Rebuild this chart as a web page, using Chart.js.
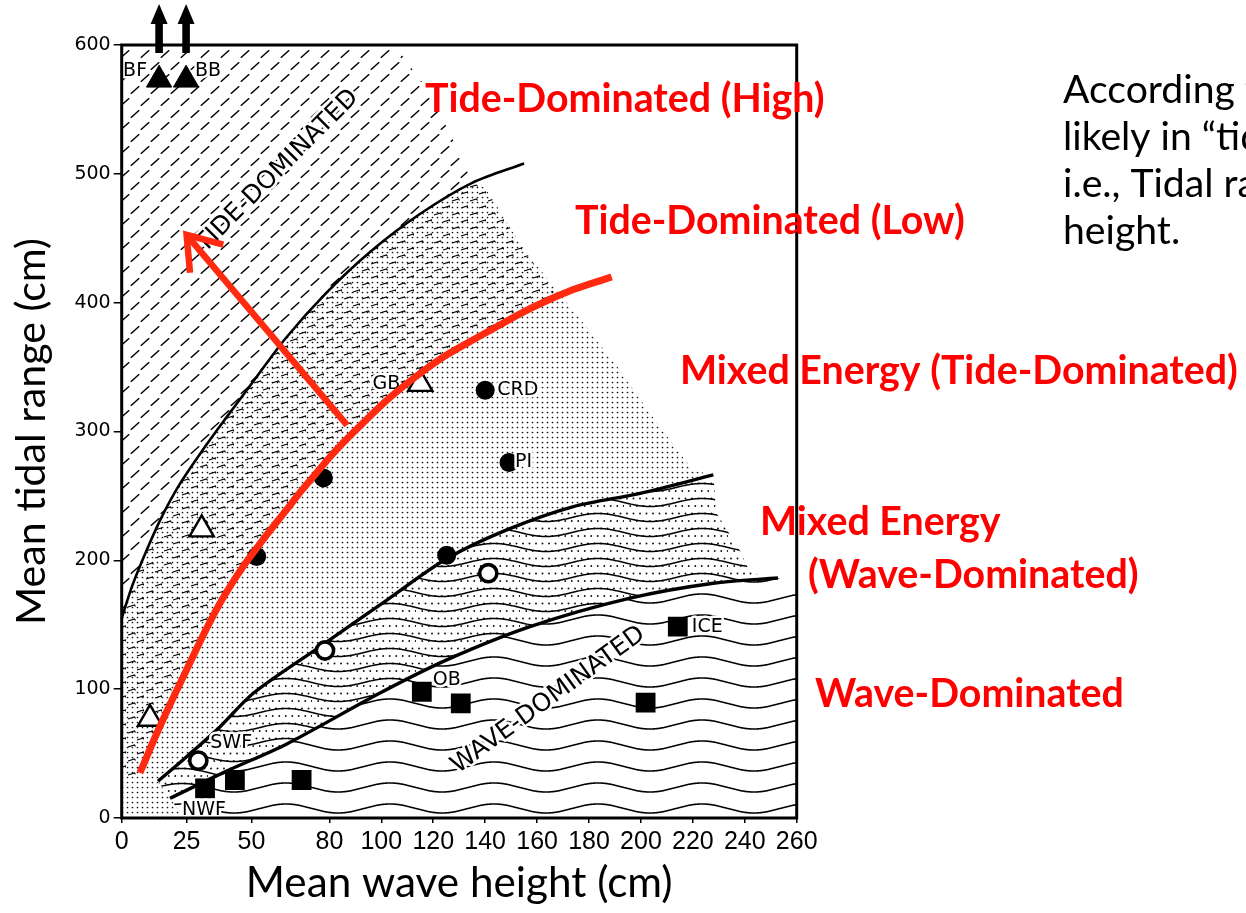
<!DOCTYPE html>
<html>
<head>
<meta charset="utf-8">
<script src="https://cdn.jsdelivr.net/npm/chart.js@4.4.1/dist/chart.umd.min.js"></script>
<style>
  html, body { margin: 0; padding: 0; background: #fff; overflow: hidden; }
  #wrap { width: 1246px; height: 913px; position: relative; }
</style>
</head>
<body>
<div id="wrap"><canvas id="chart" width="1246" height="913"></canvas></div>
<script>
// ---------- axis ticks ----------
const xTickValues = [0, 25, 50, 80, 100, 120, 140, 160, 180, 200, 220, 240, 260];
const yTickValues = [0, 100, 200, 300, 400, 500, 600];

// ---------- stations: x = mean wave height (cm), y = mean tidal range (cm) ----------
const solidTriX = [14.4, 24.8];
const solidTriY = [573, 573];
const solidTriNames = ['BF', 'BB'];

const openTriX = [30.8, 10.9, 115.0];
const openTriY = [224, 77, 337];
const openTriNames = ['', '', 'GB'];

const solidDotX = [140.0, 149.2, 77.7, 52.0, 125.2];
const solidDotY = [332, 276, 264, 203, 204];
const solidDotNames = ['CRD', 'PI', '', '', ''];

const openDotX = [141.2, 78.3, 29.5];
const openDotY = [190, 130, 44.5];
const openDotNames = ['', '', 'SWF'];

const squareX = [214.2, 115.6, 130.6, 201.8, 32.1, 43.6, 69.3];
const squareY = [148.5, 98, 89, 89.5, 23, 29.5, 29.5];
const squareNames = ['ICE', 'OB', '', '', 'NWF', '', ''];

// ---------- field boundaries [wave height, tidal range] ----------
const tideBoundary = [[0,155],[4,180],[9,205],[15,232],[22,258],[31,285],[40,310],[50,337],[63,372],[79,408],[96,440],[115,469],[135,493],[155,508]];
const mixedBoundary = [[14,28.5],[25,47.6],[37.9,70.9],[50.7,96.8],[76.4,133],[102,169],[125,201],[148.3,223.6],[174,241.7],[199.7,252],[227.9,266.3]];
const waveBoundary = [[18.6,15.3],[40,36],[63.6,57.5],[99.5,97],[125.2,122.7],[157.3,148.5],[195.8,170.6],[227.9,182.2],[252.8,186.3]];

// outer edges of the shaded fields
const hatchEdge = [[0,600],[105,600],[118,565],[128,525]];
const stippleEdge = [[140,489],[155,441],[174,394],[191,350],[206,307],[220,270]];
const rippleEdge = [[229,237],[238,208],[241,195],[246,187]];
const waveFieldEdge = [[260,180],[260,0],[24,0]];
const cornerEdge = [[18.6,15.3],[24,0],[0,0]];

// hand-drawn split through the mixed-energy field, and the pointer
const splitCurve = [[7,35],[14.7,71],[25,115],[36,160],[45,190],[53.3,213],[63,238],[71.3,259],[88.6,298],[114.9,345],[140.6,377],[167.6,405],[188.7,420]];
const pointerFrom = [86.8, 305];
const pointerTo = [25, 452.6];

// ---------- text ----------
const fieldNames = ['TIDE-DOMINATED', 'WAVE-DOMINATED'];
const fieldNameAnchor = [[60, 502, -45], [164.3, 91.6, -36]];

const sideNotes = ['Tide-Dominated (High)', 'Tide-Dominated (Low)', 'Mixed Energy (Tide-Dominated)', 'Mixed Energy', '(Wave-Dominated)', 'Wave-Dominated'];
const sideNoteAt = [[425,112],[575,234],[680,384],[760,535],[808,588],[815,707]];

const noteLines = ['According to this diagram, the deposit is most', 'likely in \u201ctide-dominated\u201d settings,', 'i.e., Tidal range far exceeds wave', 'height.'];
const noteAt = [1063, 103, 47];

const stationLabelPlacement = {
  BF:  { dx: -12, dy: -9,  align: 'right' },
  BB:  { dx: 9,   dy: -9,  align: 'left' },
  GB:  { dx: -20, dy: 0,   align: 'right' },
  CRD: { dx: 12,  dy: 0,   align: 'left' },
  PI:  { dx: 6,   dy: 0,   align: 'left' },
  SWF: { dx: 12,  dy: -18, align: 'left' },
  NWF: { dx: -23, dy: 22,  align: 'left' },
  OB:  { dx: 11,  dy: -12, align: 'left' },
  ICE: { dx: 14,  dy: 0,   align: 'left' }
};

const RED_TEXT = '#ff0000';
const RED_PEN = '#ff2a10';
const INK = '#000';

// ---------- helpers ----------
const pts = arr => arr.map(([x, y]) => ({ x, y }));
const zip = (xs, ys) => xs.map((x, i) => ({ x, y: ys[i] }));

function fitSize(text, weight, family, width) {
  const g = document.createElement('canvas').getContext('2d');
  g.font = `${weight} 100px "${family}"`;
  return 100 * width / g.measureText(text).width;
}

function makeTile(w, h, paint) {
  const c = document.createElement('canvas');
  c.width = w; c.height = h;
  const g = c.getContext('2d');
  paint(g, w, h);
  return g.createPattern(c, 'repeat');
}

function wave(g, w, cy, amp, lw) {
  g.strokeStyle = INK; g.lineWidth = lw;
  g.beginPath();
  for (let x = -1; x <= w + 1; x++) {
    const y = cy + amp * Math.sin(2 * Math.PI * x / w);
    if (x === -1) g.moveTo(x, y); else g.lineTo(x, y);
  }
  g.stroke();
}

// shading textures
const hatchFill = makeTile(20, 24, g => {
  g.strokeStyle = INK; g.lineWidth = 1.5;
  [[5, 6], [15, 18]].forEach(([cx, cy]) => {
    g.beginPath(); g.moveTo(cx - 4.2, cy + 3.8); g.lineTo(cx + 4.2, cy - 3.8); g.stroke();
  });
});
const stippleFill = makeTile(5, 5, g => {
  g.fillStyle = '#111';
  g.beginPath(); g.arc(2.5, 2.5, 0.85, 0, Math.PI * 2); g.fill();
});
const dashFill = makeTile(18, 14, g => {
  g.strokeStyle = INK; g.lineWidth = 1.15;
  g.beginPath(); g.moveTo(2, 5); g.lineTo(8.5, 3); g.lineTo(9.5, 4.5); g.stroke();
  g.beginPath(); g.moveTo(11, 12); g.lineTo(17.5, 10); g.lineTo(18, 11.5); g.stroke();
});
const rippleDotFill = makeTile(104, 15, g => {
  g.fillStyle = '#111';
  for (let i = 0; i < 16; i++) {
    g.beginPath(); g.arc(3 + i * 6.5, 3.5, 0.95, 0, Math.PI * 2); g.fill();
    g.beginPath(); g.arc(6.25 + i * 6.5, 11, 0.95, 0, Math.PI * 2); g.fill();
  }
  wave(g, 104, 7.5, 4, 1.5);
});
const rippleFill = makeTile(104, 21, g => wave(g, 104, 10.5, 4.5, 1.6));

// ---------- fonts ----------
const GEO = 'DejaVu Sans';
const sideSize = fitSize('Mixed Energy (Tide-Dominated)', 'bold', 'Lato', 558);
const noteSize = fitSize('According', 'normal', 'Lato', 172);
const xTitleSize = fitSize('Mean wave height (cm)', 'normal', 'Lato', 427);
const yTitleSize = fitSize('Mean tidal range (cm)', 'normal', 'Lato', 387);

// ---------- datasets ----------
function field(points, pattern, order) {
  return {
    data: pts(points), showLine: true, fill: 'shape', backgroundColor: pattern,
    borderWidth: 0, borderColor: 'rgba(0,0,0,0)', pointRadius: 0, tension: 0, order
  };
}
function boundary(points, width) {
  return {
    data: pts(points), showLine: true, fill: false, borderColor: INK, borderWidth: width,
    pointRadius: 0, tension: 0.3, order: 40
  };
}
function stations(xs, ys, style, radius, solid, bw) {
  return {
    data: zip(xs, ys), showLine: false, pointStyle: style, pointRadius: radius,
    backgroundColor: solid ? INK : '#fff', borderColor: INK, borderWidth: bw, order: 30
  };
}

const datasets = [
  field([...waveBoundary, ...waveFieldEdge], rippleFill, 60),
  field([...mixedBoundary, ...rippleEdge, ...waveBoundary.slice(0, 8).reverse()], rippleDotFill, 59),
  field([...tideBoundary.slice(0, 13), ...stippleEdge, ...mixedBoundary.slice().reverse(), ...cornerEdge], stippleFill, 58),
  field([...tideBoundary.slice(0, 13), [140, 489], [155, 441], ...splitCurve.slice(0, 12).reverse(), [0, 30]], dashFill, 57),
  field([...hatchEdge, ...tideBoundary.slice(0, 13).reverse()], hatchFill, 56),
  boundary(tideBoundary, 2.6),
  boundary(mixedBoundary, 3.4),
  boundary(waveBoundary, 3.4),
  stations(solidTriX, solidTriY, 'triangle', 14.6, true, 1),
  stations(openTriX, openTriY, 'triangle', 14, false, 2.4),
  stations(solidDotX, solidDotY, 'circle', 9.5, true, 0),
  stations(openDotX, openDotY, 'circle', 8.6, false, 3.6),
  stations(squareX, squareY, 'rect', 14, true, 0),
  {
    role: 'split', data: pts(splitCurve), showLine: true, fill: false, borderColor: RED_PEN,
    borderWidth: 7, borderCapStyle: 'butt', pointRadius: 0, tension: 0.45, order: 20
  },
  {
    role: 'pointer', data: pts([pointerFrom, pointerTo]), showLine: true, fill: false,
    borderColor: RED_PEN, borderWidth: 6.5, borderCapStyle: 'butt', pointRadius: 0, order: 10
  }
];

const stationGroups = [
  [solidTriX, solidTriY, solidTriNames],
  [openTriX, openTriY, openTriNames],
  [solidDotX, solidDotY, solidDotNames],
  [openDotX, openDotY, openDotNames],
  [squareX, squareY, squareNames]
];

// ---------- drawing plugin ----------
function haloText(ctx, text, x, y) {
  ctx.lineWidth = 5; ctx.strokeStyle = '#fff'; ctx.lineJoin = 'round';
  ctx.strokeText(text, x, y);
  ctx.fillStyle = INK; ctx.fillText(text, x, y);
}

const diagram = {
  id: 'diagram',
  beforeDatasetDraw(chart, args) {
    const ds = chart.data.datasets[args.index];
    if (ds.role !== 'split') return;
    const { ctx, scales: { x, y } } = chart;
    ctx.save();
    ctx.textBaseline = 'middle';
    // field names
    ctx.font = `25px "${GEO}"`;
    ctx.textAlign = 'center';
    fieldNames.forEach((t, i) => {
      const [vx, vy, ang] = fieldNameAnchor[i];
      ctx.save();
      ctx.translate(x.getPixelForValue(vx), y.getPixelForValue(vy));
      ctx.rotate(ang * Math.PI / 180);
      haloText(ctx, t, 0, 0);
      ctx.restore();
    });
    // station names
    ctx.font = `19px "${GEO}"`;
    stationGroups.forEach(([xs, ys, names]) => {
      names.forEach((n, i) => {
        if (!n) return;
        const p = stationLabelPlacement[n];
        ctx.textAlign = p.align;
        haloText(ctx, n, x.getPixelForValue(xs[i]) + p.dx, y.getPixelForValue(ys[i]) + p.dy);
      });
    });
    ctx.restore();
  },
  afterDatasetDraw(chart, args) {
    const ds = chart.data.datasets[args.index];
    if (ds.role !== 'pointer') return;
    const ctx = chart.ctx;
    const [a, b] = args.meta.data;
    const back = Math.atan2(a.y - b.y, a.x - b.x);
    const len = 38, spread = 35 * Math.PI / 180;
    ctx.save();
    ctx.strokeStyle = RED_PEN; ctx.lineWidth = 6.5; ctx.lineJoin = 'miter'; ctx.lineCap = 'butt';
    ctx.beginPath();
    ctx.moveTo(b.x + len * Math.cos(back - spread), b.y + len * Math.sin(back - spread));
    ctx.lineTo(b.x, b.y);
    ctx.lineTo(b.x + len * Math.cos(back + spread), b.y + len * Math.sin(back + spread));
    ctx.stroke();
    ctx.restore();
  },
  afterDatasetsDraw(chart) {
    const { ctx, chartArea: ca, scales: { x } } = chart;
    ctx.save();
    // plot frame
    ctx.strokeStyle = INK; ctx.lineWidth = 3;
    ctx.strokeRect(ca.left, ca.top, ca.right - ca.left, ca.bottom - ca.top);
    // off-scale arrows above BF and BB
    ctx.fillStyle = INK;
    solidTriX.forEach(v => {
      const px = x.getPixelForValue(v);
      ctx.fillRect(px - 3.8, ca.top - 23, 7.6, 31);
      ctx.beginPath();
      ctx.moveTo(px - 8.5, ca.top - 21);
      ctx.lineTo(px, ca.top - 41);
      ctx.lineTo(px + 8.5, ca.top - 21);
      ctx.closePath(); ctx.fill();
    });
    ctx.restore();
  },
  afterDraw(chart) {
    const ctx = chart.ctx;
    ctx.save();
    ctx.textBaseline = 'alphabetic';
    ctx.textAlign = 'left';
    ctx.fillStyle = RED_TEXT;
    ctx.font = `bold ${sideSize}px "Lato"`;
    sideNotes.forEach((t, i) => ctx.fillText(t, sideNoteAt[i][0], sideNoteAt[i][1]));
    ctx.fillStyle = INK;
    ctx.font = `${noteSize}px "Lato"`;
    noteLines.forEach((t, i) => ctx.fillText(t, noteAt[0], noteAt[1] + i * noteAt[2]));
    ctx.restore();
  }
};

// ---------- chart ----------
new Chart(document.getElementById('chart'), {
  type: 'scatter',
  data: { datasets },
  options: {
    responsive: false,
    animation: false,
    devicePixelRatio: 1,
    events: [],
    layout: { padding: { top: 45, right: 449.3, bottom: 0, left: 0 } },
    plugins: { legend: { display: false }, tooltip: { enabled: false } },
    scales: {
      x: {
        type: 'linear', min: 0, max: 260,
        afterBuildTicks: s => { s.ticks = xTickValues.map(v => ({ value: v })); },
        afterFit: s => { s.height = 95; },
        border: { display: false },
        grid: { drawOnChartArea: false, drawTicks: true, tickLength: 5, color: INK, lineWidth: 1.5 },
        ticks: {
          autoSkip: false, maxRotation: 0, minRotation: 0, padding: 4, color: INK,
          font: { family: 'Liberation Sans', size: 25 }
        },
        title: {
          display: true, text: 'Mean wave height (cm)', color: INK,
          font: { family: 'Lato', size: xTitleSize }, padding: { top: 0, bottom: 4 }
        }
      },
      y: {
        type: 'linear', min: 0, max: 600,
        afterBuildTicks: s => { s.ticks = yTickValues.map(v => ({ value: v })); },
        afterFit: s => { s.width = 121.7; },
        border: { display: false },
        grid: { drawOnChartArea: false, drawTicks: true, tickLength: 8, color: INK, lineWidth: 1.5 },
        ticks: { padding: 3, color: INK, font: { family: GEO, size: 19 } },
        title: {
          display: true, text: 'Mean tidal range (cm)', color: INK,
          font: { family: 'Lato', size: yTitleSize }, padding: { top: 7, bottom: 0 }
        }
      }
    }
  },
  plugins: [diagram]
});
</script>
</body>
</html>
